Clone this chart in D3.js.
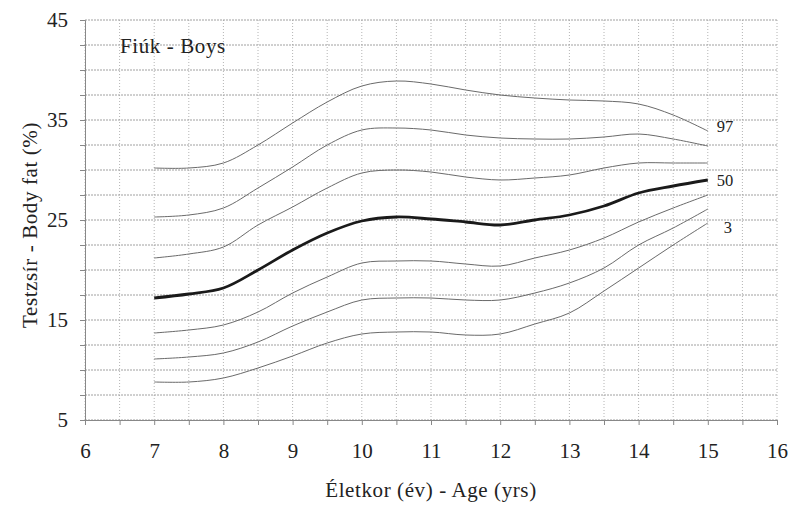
<!DOCTYPE html>
<html>
<head>
<meta charset="utf-8">
<script src="https://cdn.jsdelivr.net/npm/d3@7"></script>
<style>
  body { margin: 0; background: #fff; }
  text { font-family: "Liberation Serif", "Times New Roman", "DejaVu Serif", serif; fill: #222; }
</style>
</head>
<body>
<div id="my_dataviz"></div>
<script>
// ages (years) where the percentile curves are sampled
var ages = [7, 7.5, 8, 8.5, 9, 9.5, 10, 10.5, 11, 11.5, 12, 12.5, 13, 13.5, 14, 14.5, 15];

// body fat (%) per percentile
var p97 = [30.2, 30.2, 30.7, 32.5, 34.7, 36.8, 38.4, 38.9, 38.6, 38.0, 37.5, 37.2, 37.0, 36.9, 36.6, 35.5, 33.9];
var p90 = [25.3, 25.5, 26.2, 28.2, 30.3, 32.5, 34.0, 34.2, 34.0, 33.5, 33.2, 33.1, 33.1, 33.3, 33.6, 33.1, 32.4];
var p75 = [21.2, 21.6, 22.3, 24.5, 26.3, 28.2, 29.7, 30.0, 29.8, 29.3, 29.0, 29.2, 29.5, 30.2, 30.7, 30.7, 30.7];
var p50 = [17.2, 17.6, 18.2, 20.0, 22.0, 23.7, 24.9, 25.3, 25.1, 24.8, 24.5, 25.0, 25.5, 26.4, 27.7, 28.4, 29.0];
var p25 = [13.7, 14.0, 14.5, 15.8, 17.7, 19.3, 20.7, 20.9, 20.9, 20.6, 20.4, 21.2, 22.0, 23.2, 24.8, 26.2, 27.5];
var p10 = [11.1, 11.3, 11.7, 12.8, 14.4, 15.8, 17.0, 17.2, 17.2, 17.0, 17.0, 17.7, 18.7, 20.2, 22.5, 24.2, 26.1];
var p3  = [8.8, 8.8, 9.2, 10.2, 11.4, 12.7, 13.6, 13.8, 13.8, 13.5, 13.6, 14.6, 15.7, 17.9, 20.2, 22.5, 24.7];

var curves = [
  {name: "97", values: p97},
  {name: "90", values: p90},
  {name: "75", values: p75},
  {name: "50", values: p50},
  {name: "25", values: p25},
  {name: "10", values: p10},
  {name: "3",  values: p3}
];

var labelled = ["97", "50", "3"];
var xTicks = [6, 7, 8, 9, 10, 11, 12, 13, 14, 15, 16];
var yTicks = [5, 15, 25, 35, 45];

var margin = {top: 20, right: 16, bottom: 96, left: 85},
    width = 793 - margin.left - margin.right,
    height = 516 - margin.top - margin.bottom;

var svg = d3.select("#my_dataviz")
  .append("svg")
    .attr("width", 793)
    .attr("height", 516)
  .append("g")
    .attr("transform", "translate(" + margin.left + "," + margin.top + ")");

var x = d3.scaleLinear().domain([6, 16]).range([0, width]);
var y = d3.scaleLinear().domain([5, 45]).range([height, 0]);

// grid: every half year, every 2.5 %
var xGrid = d3.range(6, 16.01, 0.5);
var yGrid = d3.range(5, 45.01, 2.5);

svg.append("g")
  .selectAll("line")
  .data(xGrid)
  .enter()
  .append("line")
    .attr("x1", function(d) { return x(d); })
    .attr("x2", function(d) { return x(d); })
    .attr("y1", 0)
    .attr("y2", height)
    .attr("stroke", "#b4b4b4")
    .attr("stroke-dasharray", "1,2");

svg.append("g")
  .selectAll("line")
  .data(yGrid)
  .enter()
  .append("line")
    .attr("x1", 0)
    .attr("x2", width)
    .attr("y1", function(d) { return y(d); })
    .attr("y2", function(d) { return y(d); })
    .attr("stroke", "#a0a0a0")
    .attr("stroke-dasharray", "2,1");

// axes
var xAxis = svg.append("g")
  .attr("transform", "translate(0," + height + ")")
  .call(d3.axisBottom(x).tickValues(xGrid).tickSize(5)
    .tickFormat(function(d) { return xTicks.indexOf(d) >= 0 ? d : ""; }));
xAxis.selectAll("text")
  .attr("dy", "1.45em")
  .style("font-size", "21px");

var yAxis = svg.append("g")
  .call(d3.axisLeft(y).tickValues(yGrid).tickSize(5)
    .tickFormat(function(d) { return yTicks.indexOf(d) >= 0 ? d : ""; }));
yAxis.selectAll("text")
  .attr("x", -17)
  .style("font-size", "21px");

svg.selectAll(".domain").attr("stroke", "#888");
svg.selectAll(".tick line").attr("stroke", "#888");

// percentile curves
var line = d3.line()
  .x(function(d, i) { return x(ages[i]); })
  .y(function(d) { return y(d); })
  .curve(d3.curveCatmullRom.alpha(0.5));

svg.selectAll("mycurve")
  .data(curves)
  .enter()
  .append("path")
    .attr("d", function(d) { return line(d.values); })
    .attr("fill", "none")
    .attr("stroke", function(d) { return d.name == "50" ? "#1a1a1a" : "#6a6a6a"; })
    .attr("stroke-width", function(d) { return d.name == "50" ? 2.8 : 1; });

// curve names at the right end; "3" sits below its curve end
var labelShift = {"97": 1, "50": 6, "3": 10};
svg.selectAll("mylabel")
  .data(curves.filter(function(d) { return labelled.indexOf(d.name) >= 0; }))
  .enter()
  .append("text")
    .attr("x", function(d) { return x(15) + (d.name == "3" ? 16 : 9); })
    .attr("y", function(d) { return y(d.values[d.values.length - 1]) + labelShift[d.name]; })
    .style("font-size", "16.5px")
    .text(function(d) { return d.name; });

svg.append("text")
  .attr("x", 35)
  .attr("y", 33)
  .style("font-size", "21px")
  .style("letter-spacing", "0.6px")
  .text("Fiúk - Boys");

svg.append("text")
  .attr("transform", "translate(" + (width / 2) + "," + (height + 77) + ")")
  .style("text-anchor", "middle")
  .style("font-size", "21px")
  .style("letter-spacing", "0.6px")
  .text("Életkor (év) - Age (yrs)");

svg.append("text")
  .attr("transform", "rotate(-90)")
  .attr("x", -(height / 2) - 5)
  .attr("y", -margin.left + 37)
  .style("text-anchor", "middle")
  .style("font-size", "21px")
  .style("letter-spacing", "0.6px")
  .text("Testzsír - Body fat (%)");
</script>
</body>
</html>
